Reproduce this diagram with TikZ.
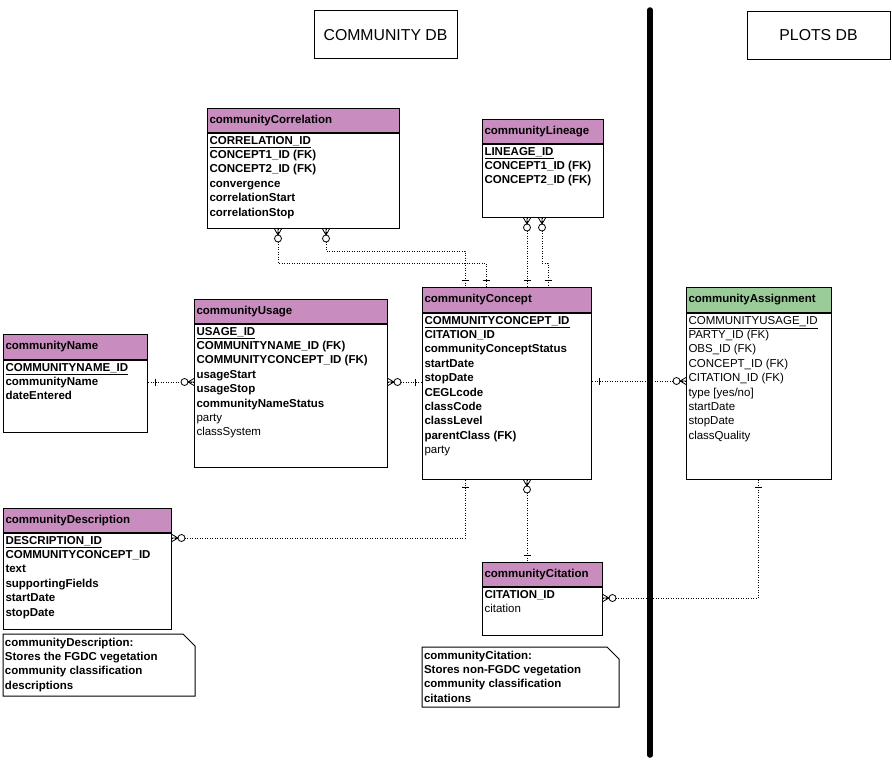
\documentclass[tikz,border=0pt]{standalone}
\usepackage{fontspec}
\setmainfont{Liberation Sans}
\usetikzlibrary{calc, positioning}

\definecolor{entpink}{RGB}{200,140,190}
\definecolor{entgreen}{RGB}{153,204,153}

\begin{document}
\begin{tikzpicture}[x=1pt, y=-1pt, line width=1pt, every node/.style={font=\fontsize{11.5}{14.4}\selectfont}]
	\tikzset{hdr/.style={draw, fill=entpink, anchor=north west, inner xsep=2pt, inner ysep=0pt, minimum height=24pt, font=\fontsize{11.5}{14.4}\selectfont\bfseries}}
	\tikzset{fld/.style={draw, fill=white, anchor=north west, inner xsep=2pt, inner ysep=0.5pt, font=\fontsize{11.5}{14.4}\selectfont\bfseries}}
	\tikzset{note/.style={anchor=north west, inner xsep=1.5pt, inner ysep=1.5pt, font=\fontsize{11.5}{14.4}\selectfont\bfseries}}
	\tikzset{dbtitle/.style={draw, minimum width=143pt, minimum height=48pt, font=\fontsize{15.8}{18}\selectfont}}
	\tikzset{link/.style={line width=0.9pt, dash pattern=on 1pt off 1.5pt}}
	\tikzset{zmany/.pic={\draw[line width=0.8pt] (0,-3.5) -- (6,0) -- (0,3.5) (0,0) -- (6,0);
		\draw[line width=0.8pt, fill=white] (9.5,0) circle (3.5);}}
	\tikzset{onebar/.pic={\draw[line width=0.8pt] (7,-3.5) -- (7,3.5);}}
	\useasboundingbox (0,0) rectangle (892,765);

	\node[dbtitle] (commDB) at (385.5,35) {COMMUNITY DB};
	\node[dbtitle] (plotsDB) at (818.5,35.5) {PLOTS DB};

	\node[hdr, text width=188pt] (corrH) at (207,108) {communityCorrelation};
	\node[fld] (corr) at (corrH.south west) {\parbox[t][94pt][t]{188pt}{\strut\underline{CORRELATION\_ID}\\CONCEPT1\_ID (FK)\\CONCEPT2\_ID (FK)\\convergence\\correlationStart\\correlationStop}};

	\node[hdr, text width=117pt] (linH) at (482,119) {communityLineage};
	\node[fld] (lin) at (linH.south west) {\parbox[t][72pt][t]{117pt}{\strut\underline{LINEAGE\_ID}\\CONCEPT1\_ID (FK)\\CONCEPT2\_ID (FK)}};

	\node[hdr, text width=140pt, minimum height=25pt] (nameH) at (3,334) {communityName};
	\node[fld] (name) at (nameH.south west) {\parbox[t][71pt][t]{140pt}{\strut\underline{COMMUNITYNAME\_ID}\\communityName\\dateEntered}};

	\node[hdr, text width=189pt] (usageH) at (194,299) {communityUsage};
	\node[fld] (usage) at (usageH.south west) {\parbox[t][142pt][t]{189pt}{\strut\underline{USAGE\_ID}\\COMMUNITYNAME\_ID (FK)\\COMMUNITYCONCEPT\_ID (FK)\\usageStart\\usageStop\\communityNameStatus\\\mdseries party\\classSystem}};

	\node[hdr, text width=165pt, minimum height=25pt] (conH) at (422,287) {communityConcept};
	\node[fld] (con) at (conH.south west) {\parbox[t][165pt][t]{165pt}{\strut\underline{COMMUNITYCONCEPT\_ID}\\CITATION\_ID\\communityConceptStatus\\startDate\\stopDate\\CEGLcode\\classCode\\classLevel\\parentClass (FK)\\\mdseries party}};

	\node[hdr, fill=entgreen, text width=141pt, minimum height=25pt] (assignH) at (686,287) {communityAssignment};
	\node[fld, font=\fontsize{11.5}{14.4}\selectfont] (assign) at (assignH.south west) {\parbox[t][165pt][t]{141pt}{\strut\underline{COMMUNITYUSAGE\_ID}\\PARTY\_ID (FK)\\OBS\_ID (FK)\\CONCEPT\_ID (FK)\\CITATION\_ID (FK)\\type [yes/no]\\startDate\\stopDate\\classQuality}};

	\node[hdr, text width=164pt] (descrH) at (3,508) {communityDescription};
	\node[fld] (descr) at (descrH.south west) {\parbox[t][95pt][t]{164pt}{\strut\underline{DESCRIPTION\_ID}\\COMMUNITYCONCEPT\_ID\\text\\supportingFields\\startDate\\stopDate}};

	\node[hdr, text width=116pt] (citH) at (482,562) {communityCitation};
	\node[fld] (cit) at (citH.south west) {\parbox[t][47pt][t]{116pt}{\strut CITATION\_ID\\\mdseries citation}};

	\node[note] (descrNote) at (3,634) {\parbox[t][58pt][t]{188pt}{\strut communityDescription:\\Stores the FGDC vegetation\\community classification\\descriptions}};
	\draw (descrNote.north west) -- ($(descrNote.north east)+(-12,0)$) -- ($(descrNote.north east)+(0,12)$) -- (descrNote.south east) -- (descrNote.south west) -- cycle;

	\node[note] (citNote) at (422,647) {\parbox[t][56pt][t]{193pt}{\strut communityCitation:\\Stores non-FGDC vegetation\\community classification\\citations}};
	\draw (citNote.north west) -- ($(citNote.north east)+(-12,0)$) -- ($(citNote.north east)+(0,12)$) -- (citNote.south east) -- (citNote.south west) -- cycle;

	% relationships
	\draw[link] (278,0 |- corr.south) -- (278,263) -- (486,263) -- (486,0 |- conH.north);
	\draw[link] (326,0 |- corr.south) -- (326,251) -- (465,251) -- (465,0 |- conH.north);
	\draw[link] (527,0 |- lin.south) -- (527,0 |- conH.north);
	\draw[link] (542,0 |- lin.south) -- (542,263) -- (548,263) -- (548,0 |- conH.north);
	\draw[link] (name.east |- 0,382) -- (usage.west |- 0,382);
	\draw[link] (usage.east |- 0,382) -- (con.west |- 0,382);
	\draw[link] (con.east |- 0,381) -- (assign.west |- 0,381);
	\draw[link] (465,0 |- con.south) -- (465,538) -- (descr.east |- 0,538);
	\draw[link] (527,0 |- con.south) -- (527,0 |- citH.north);
	\draw[link] (cit.east |- 0,598) -- (758,598) -- (758,0 |- assign.south);

	\path (278,0 |- corr.south) pic[rotate=-90] {zmany};
	\path (326,0 |- corr.south) pic[rotate=-90] {zmany};
	\path (527,0 |- lin.south) pic[rotate=-90] {zmany};
	\path (542,0 |- lin.south) pic[rotate=-90] {zmany};
	\path (usage.west |- 0,382) pic[rotate=180] {zmany};
	\path (usage.east |- 0,382) pic {zmany};
	\path (assign.west |- 0,381) pic[rotate=180] {zmany};
	\path (descr.east |- 0,538) pic {zmany};
	\path (527,0 |- con.south) pic[rotate=-90] {zmany};
	\path (cit.east |- 0,598) pic {zmany};

	\path (486,0 |- conH.north) pic[rotate=90] {onebar};
	\path (465,0 |- conH.north) pic[rotate=90] {onebar};
	\path (527,0 |- conH.north) pic[rotate=90] {onebar};
	\path (548,0 |- conH.north) pic[rotate=90] {onebar};
	\path (name.east |- 0,382) pic {onebar};
	\path (con.west |- 0,382) pic[rotate=180] {onebar};
	\path (con.east |- 0,381) pic {onebar};
	\path (465,0 |- con.south) pic[rotate=-90] {onebar};
	\path (527,0 |- citH.north) pic[rotate=90] {onebar};
	\path (758,0 |- assign.south) pic[rotate=-90] {onebar};

	\coordinate (divTop) at (650,10);
	\coordinate (divBot) at (650,755);
	\draw[line width=5.5pt, line cap=round] (divTop) -- (divBot);
\end{tikzpicture}
\end{document}
